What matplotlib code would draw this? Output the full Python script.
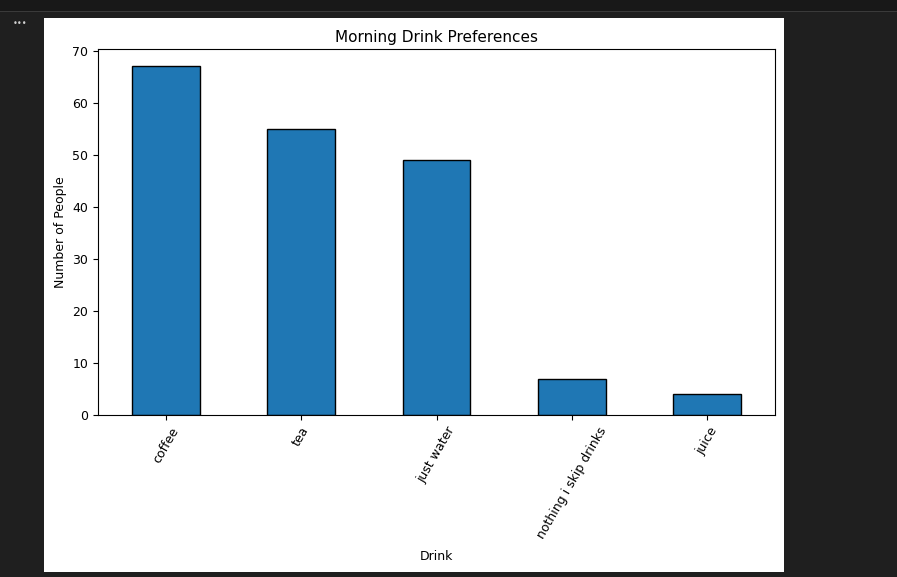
import pandas as pd
import matplotlib
matplotlib.use("Agg")
import matplotlib.pyplot as plt
from matplotlib.patches import Rectangle

drinks = ["coffee", "tea", "just water", "nothing i skip drinks", "juice"]
counts = [67, 55, 49, 7, 4]

fig = plt.figure(figsize=(8.97, 5.77), dpi=100, facecolor="#1f1f1f")

# notebook chrome around the output cell
fig.patches.append(Rectangle((0, 1 - 11 / 577), 1, 11 / 577, transform=fig.transFigure,
                             facecolor="#181818", edgecolor="none", zorder=-2))
fig.patches.append(Rectangle((0, 1 - 12 / 577), 1, 1 / 577, transform=fig.transFigure,
                             facecolor="#3a3a3a", edgecolor="none", zorder=-2))
fig.patches.append(Rectangle((44 / 897, 5 / 577), 740 / 897, 554 / 577, transform=fig.transFigure,
                             facecolor="white", edgecolor="none", zorder=-2))
fig.text(20 / 897, 1 - 24 / 577, "•••", color="#d0d0d0", fontsize=6, ha="center", va="center")

ax = fig.add_axes([98 / 897, 1 - 415 / 577, 677 / 897, 366 / 577])

series = pd.Series(counts, index=drinks)
series.plot(kind="bar", ax=ax, color="#1f77b4", edgecolor="black")

ax.set_title("Morning Drink Preferences", fontsize=11, pad=5)
ax.set_xlabel("Drink", fontsize=9, labelpad=7)
ax.set_ylabel("Number of People", fontsize=9)
ax.tick_params(labelsize=9)
plt.setp(ax.get_xticklabels(), rotation=60)

fig.savefig("out.png", dpi=100, facecolor=fig.get_facecolor())
